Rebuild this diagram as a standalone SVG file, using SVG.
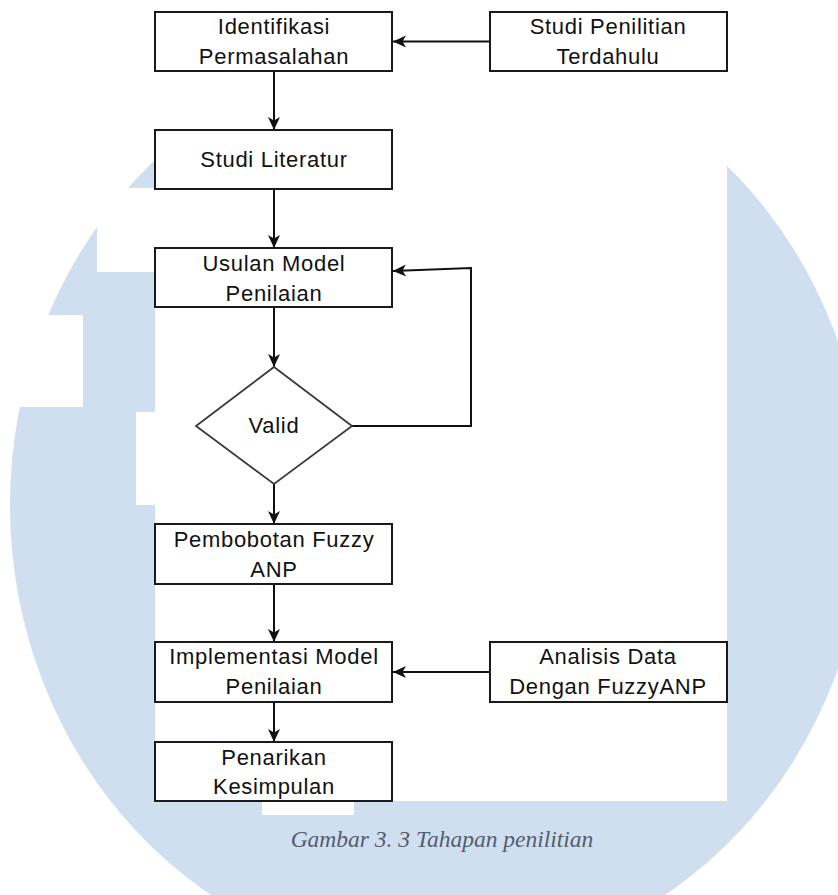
<svg xmlns="http://www.w3.org/2000/svg" width="838" height="895" viewBox="0 0 838 895">
<style>
.box{fill:#ffffff;stroke:#1a1a1a;stroke-width:2}
.dia{fill:#ffffff;stroke:#3a3a3a;stroke-width:1.8}
.t{font-family:"Liberation Sans",Arial,sans-serif;font-size:22px;fill:#111111;text-anchor:middle;letter-spacing:0.7px}
.edge{fill:none;stroke:#111111;stroke-width:2}
.cap{font-family:"Liberation Serif","Times New Roman",serif;font-style:italic;font-size:23.5px;fill:#535d6f;text-anchor:middle}
</style>
<defs>
<marker id="arr" viewBox="0 0 14 14" markerWidth="14" markerHeight="14" refX="13.5" refY="7" orient="auto" markerUnits="userSpaceOnUse">
<path d="M0.5,1 L13.5,7 L0.5,13 L4,7 Z" fill="#111111"/>
</marker>
</defs>
<rect x="0" y="0" width="838" height="895" fill="#ffffff"/>
<g id="watermark">
<ellipse cx="438" cy="505" rx="428" ry="460" fill="#cfdff0"/>
<rect x="155" y="0" width="572" height="801" fill="#ffffff"/>
<rect x="262" y="801" width="92" height="14" fill="#ffffff"/>
<rect x="97" y="188" width="58" height="84" fill="#ffffff"/>
<rect x="0" y="315" width="83" height="92" fill="#ffffff"/>
<rect x="136" y="412" width="19" height="93" fill="#ffffff"/>
</g>
<g id="connectors">
<path class="edge" d="M490,41.5 H393" marker-end="url(#arr)"/>
<path class="edge" d="M274,71 V130" marker-end="url(#arr)"/>
<path class="edge" d="M274,189 V248" marker-end="url(#arr)"/>
<path class="edge" d="M274,307 V367" marker-end="url(#arr)"/>
<path class="edge" d="M352,426 H471 V268 L393,271" marker-end="url(#arr)"/>
<path class="edge" d="M274,484 V524" marker-end="url(#arr)"/>
<path class="edge" d="M274,584 V642" marker-end="url(#arr)"/>
<path class="edge" d="M490,672 H393" marker-end="url(#arr)"/>
<path class="edge" d="M274,702 V742" marker-end="url(#arr)"/>
</g>
<g id="n-identifikasi">
<rect class="box" x="155" y="12" width="237" height="59"/>
<text class="t" x="274" y="34.3">Identifikasi</text>
<text class="t" x="274" y="64.3">Permasalahan</text>
</g>
<g id="n-studi-penilitian">
<rect class="box" x="490" y="12" width="237" height="59"/>
<text class="t" x="608" y="34.3">Studi Penilitian</text>
<text class="t" x="608" y="64.3">Terdahulu</text>
</g>
<g id="n-studi-literatur">
<rect class="box" x="155" y="130" width="237" height="59"/>
<text class="t" x="274" y="166.7">Studi Literatur</text>
</g>
<g id="n-usulan">
<rect class="box" x="155" y="248" width="237" height="59"/>
<text class="t" x="274" y="270.5">Usulan Model</text>
<text class="t" x="274" y="300.5">Penilaian</text>
</g>
<g id="n-valid">
<polygon class="dia" points="274,367 352,426 274,484 196,426"/>
<text class="t" x="274" y="432.5">Valid</text>
</g>
<g id="n-pembobotan">
<rect class="box" x="155" y="524" width="237" height="60"/>
<text class="t" x="274" y="546.6">Pembobotan Fuzzy</text>
<text class="t" x="274" y="576.6">ANP</text>
</g>
<g id="n-implementasi">
<rect class="box" x="155" y="642" width="237" height="60"/>
<text class="t" x="274" y="664.4">Implementasi Model</text>
<text class="t" x="274" y="694.2">Penilaian</text>
</g>
<g id="n-analisis">
<rect class="box" x="490" y="642" width="237" height="60"/>
<text class="t" x="608" y="664.4">Analisis Data</text>
<text class="t" x="608" y="694.2">Dengan FuzzyANP</text>
</g>
<g id="n-penarikan">
<rect class="box" x="155" y="742" width="237" height="59"/>
<text class="t" x="274" y="764.5">Penarikan</text>
<text class="t" x="274" y="793.5">Kesimpulan</text>
</g>
<text class="cap" x="442" y="847">Gambar 3. 3 Tahapan penilitian</text>
</svg>
